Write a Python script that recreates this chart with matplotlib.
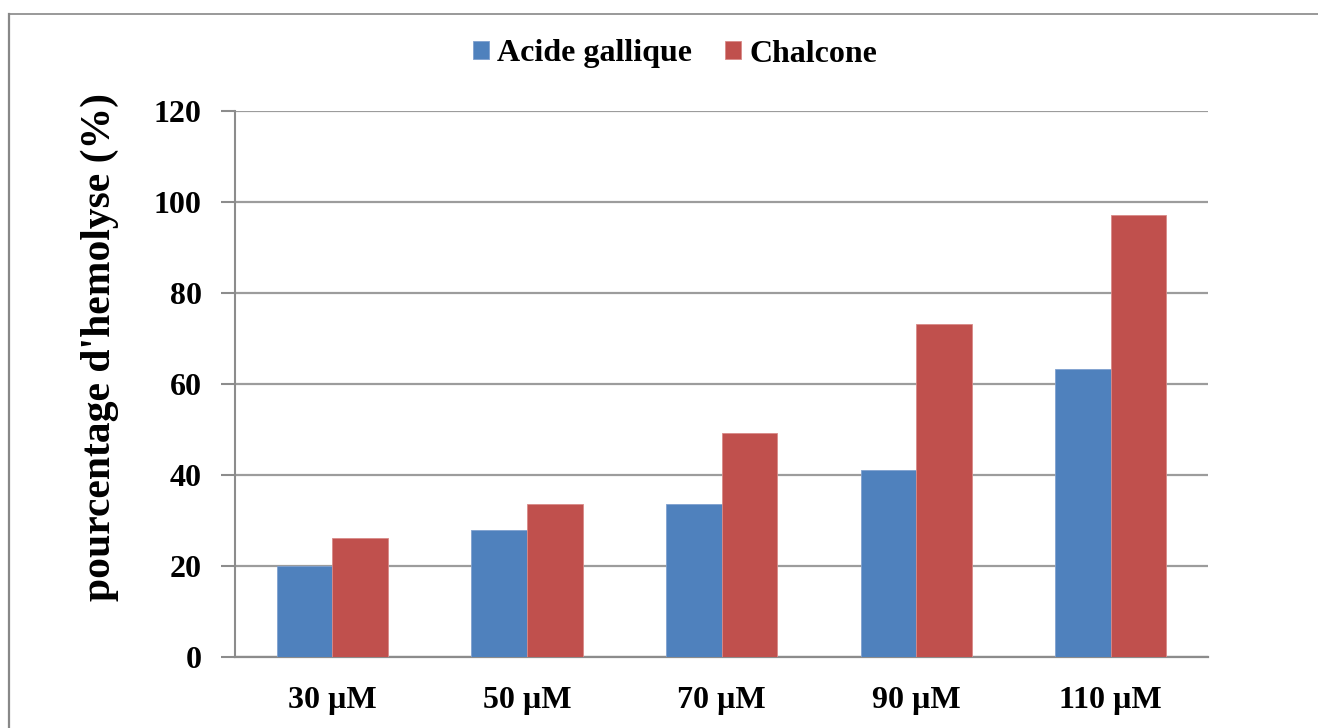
import matplotlib
matplotlib.use("Agg")
import matplotlib.pyplot as plt
from matplotlib.lines import Line2D
import numpy as np

categories = ["30 µM", "50 µM", "70 µM", "90 µM", "110 µM"]
acide_gallique = [20.0, 28.0, 33.7, 41.2, 63.3]
chalcone = [26.1, 33.6, 49.2, 73.1, 97.2]
series_names = ["Acide gallique", "Chalcone"]
yticks = [0, 20, 40, 60, 80, 100, 120]

plt.rcParams['font.family'] = ['Liberation Serif', 'DejaVu Serif']
plt.rcParams['font.weight'] = 'bold'

W, H = 1318, 728
fig = plt.figure(figsize=(W / 100, H / 100), dpi=100)
ax = fig.add_axes([235 / W, 1 - 657 / H, (1208 - 235) / W, (657 - 111) / H])

x = np.arange(len(categories))
bw = 1 / 3.5
blue = "#4F81BD"
red = "#C0504D"
b1 = ax.bar(x - bw / 2, acide_gallique, bw, color=blue, edgecolor="#7FA0CF", linewidth=0.6,
            label=series_names[0], zorder=3)
b2 = ax.bar(x + bw / 2, chalcone, bw, color=red, edgecolor="#D98A88", linewidth=0.6,
            label=series_names[1], zorder=3)

ax.set_xlim(-0.5, len(categories) - 0.5)
ax.set_ylim(0, 120)
ax.set_yticks(yticks)
ax.set_yticklabels([str(t) for t in yticks], fontsize=23, fontweight='bold')
ax.set_xticks(x)
ax.set_xticklabels(categories, fontsize=23, fontweight='bold')
ax.tick_params(axis='x', length=0, pad=21)
ax.tick_params(axis='y', length=10, width=1.5, color="#8C8C8C", pad=14, direction='out')

ax.yaxis.grid(True, color="#9C9C9C", linewidth=1.6, zorder=0)
ax.set_axisbelow(True)
for s in ["top", "right"]:
    ax.spines[s].set_visible(False)
ax.spines["left"].set_color("#8C8C8C")
ax.spines["left"].set_linewidth(1.5)
ax.spines["bottom"].set_color("#8C8C8C")
ax.spines["bottom"].set_linewidth(1.6)

fig.text(100 / W, 1 - 347 / H, "pourcentage d'hemolyse (%)", rotation=90,
         fontsize=30, fontweight='bold', ha='center', va='center')

leg = fig.legend(handles=[b1, b2], labels=series_names, loc='center',
                 bbox_to_anchor=(675 / W, 1 - 54 / H), ncol=2, frameon=False,
                 handlelength=0.5, handleheight=0.5, handletextpad=0.25,
                 columnspacing=1.05, prop={'weight': 'bold', 'size': 23})

# outer border
fig.add_artist(Line2D([9 / W, 1.0], [1 - 13.5 / H, 1 - 13.5 / H], transform=fig.transFigure,
                      color="#888888", linewidth=1.2))
fig.add_artist(Line2D([9 / W, 9 / W], [0, 1 - 13.5 / H], transform=fig.transFigure,
                      color="#888888", linewidth=1.6))

fig.savefig("out.png", dpi=100)
